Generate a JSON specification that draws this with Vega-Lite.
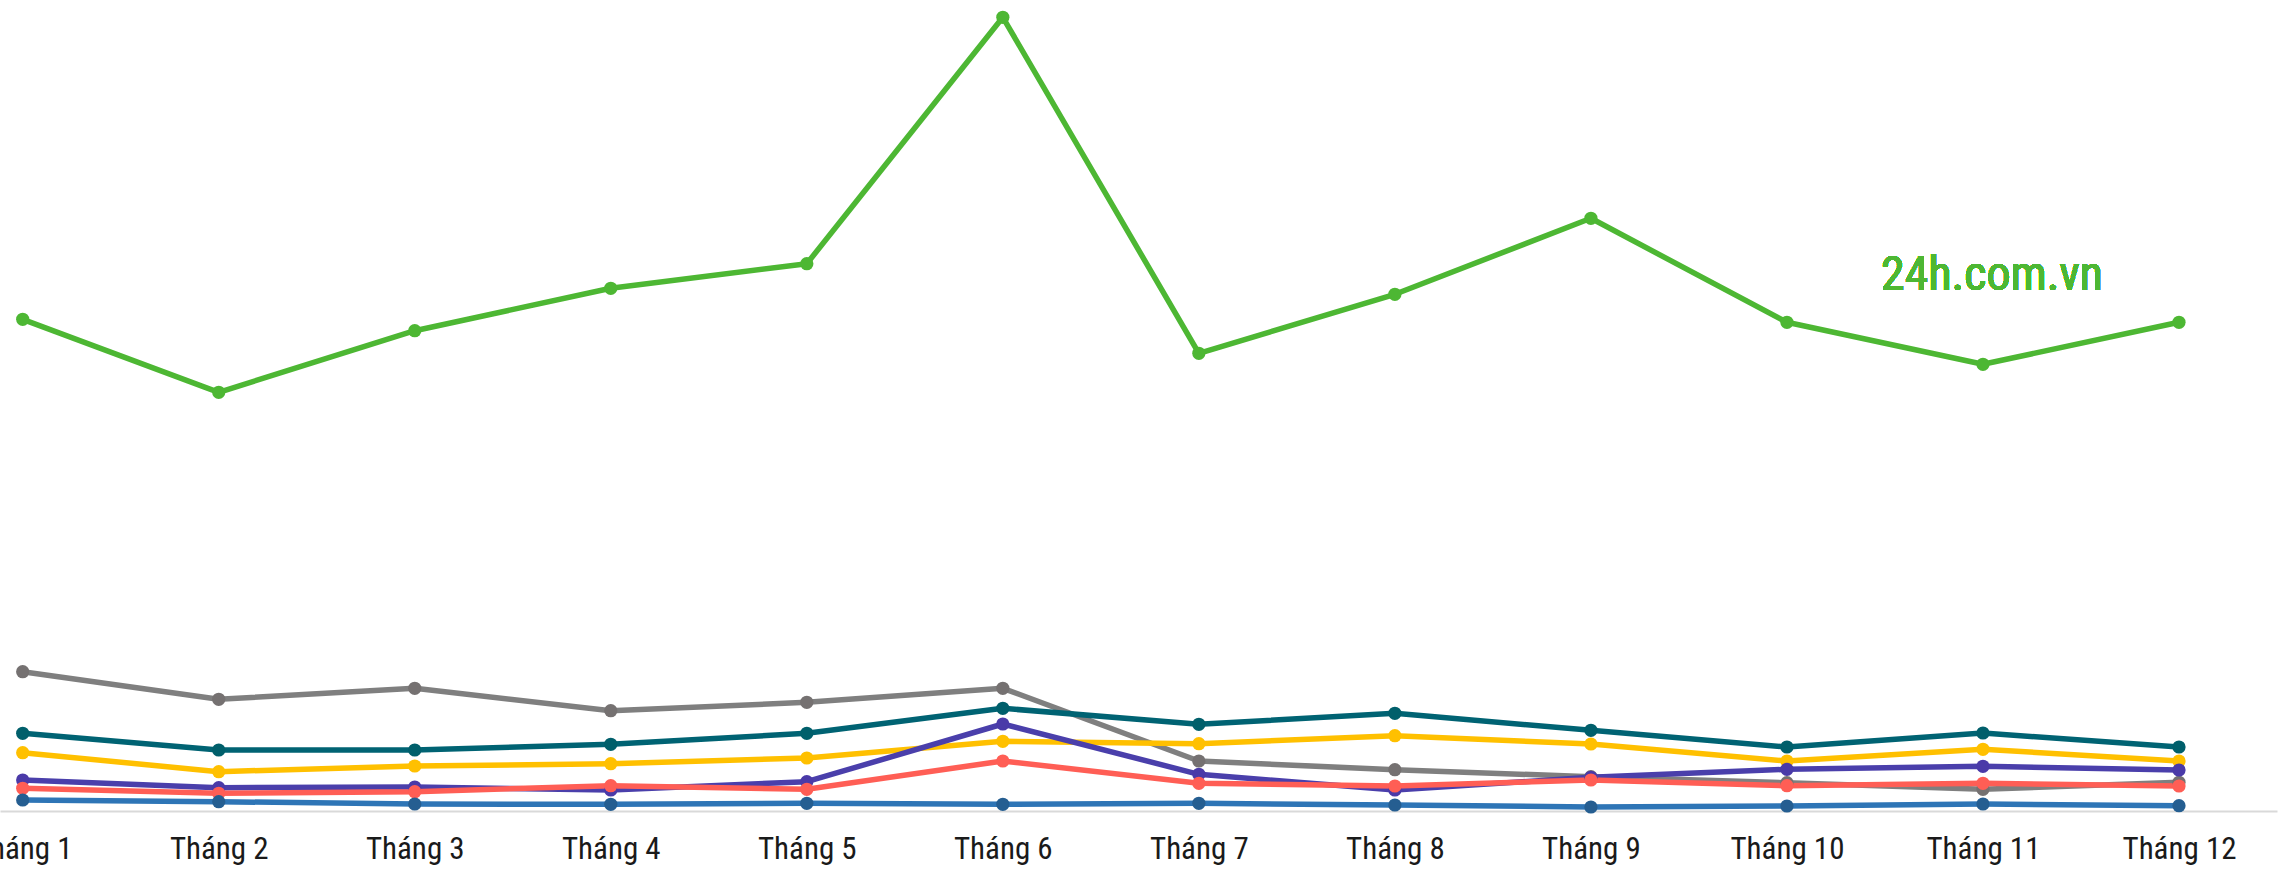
{
  "$schema": "https://vega.github.io/schema/vega-lite/v6.json",
  "width": 2277,
  "height": 811,
  "autosize": {"type": "none"},
  "padding": {"left": 0, "top": 0, "right": 8, "bottom": 61},
  "background": "white",
  "config": {"view": {"stroke": null}},
  "data": {"values": [
    {"s": "s1", "m": 1, "v": 139.3}, {"s": "s1", "m": 2, "v": 111.7}, {"s": "s1", "m": 3, "v": 122.7}, {"s": "s1", "m": 4, "v": 100.3}, {"s": "s1", "m": 5, "v": 108.7}, {"s": "s1", "m": 6, "v": 122.7}, {"s": "s1", "m": 7, "v": 50}, {"s": "s1", "m": 8, "v": 41.3}, {"s": "s1", "m": 9, "v": 34.3}, {"s": "s1", "m": 10, "v": 28.3}, {"s": "s1", "m": 11, "v": 21.7}, {"s": "s1", "m": 12, "v": 28.7},
    {"s": "s2", "m": 1, "v": 77.7}, {"s": "s2", "m": 2, "v": 61}, {"s": "s2", "m": 3, "v": 61}, {"s": "s2", "m": 4, "v": 66.7}, {"s": "s2", "m": 5, "v": 77.7}, {"s": "s2", "m": 6, "v": 102.7}, {"s": "s2", "m": 7, "v": 86.7}, {"s": "s2", "m": 8, "v": 97.7}, {"s": "s2", "m": 9, "v": 80.7}, {"s": "s2", "m": 10, "v": 64}, {"s": "s2", "m": 11, "v": 78}, {"s": "s2", "m": 12, "v": 64},
    {"s": "s3", "m": 1, "v": 58.3}, {"s": "s3", "m": 2, "v": 39.3}, {"s": "s3", "m": 3, "v": 45}, {"s": "s3", "m": 4, "v": 47.3}, {"s": "s3", "m": 5, "v": 53}, {"s": "s3", "m": 6, "v": 69.7}, {"s": "s3", "m": 7, "v": 67.3}, {"s": "s3", "m": 8, "v": 75.3}, {"s": "s3", "m": 9, "v": 67}, {"s": "s3", "m": 10, "v": 50}, {"s": "s3", "m": 11, "v": 61.7}, {"s": "s3", "m": 12, "v": 50},
    {"s": "s4", "m": 1, "v": 31}, {"s": "s4", "m": 2, "v": 23.3}, {"s": "s4", "m": 3, "v": 24}, {"s": "s4", "m": 4, "v": 21}, {"s": "s4", "m": 5, "v": 29.3}, {"s": "s4", "m": 6, "v": 87}, {"s": "s4", "m": 7, "v": 36.7}, {"s": "s4", "m": 8, "v": 21}, {"s": "s4", "m": 9, "v": 33.7}, {"s": "s4", "m": 10, "v": 41.7}, {"s": "s4", "m": 11, "v": 44.7}, {"s": "s4", "m": 12, "v": 41},
    {"s": "s5", "m": 1, "v": 22.7}, {"s": "s5", "m": 2, "v": 17.7}, {"s": "s5", "m": 3, "v": 19.3}, {"s": "s5", "m": 4, "v": 25.3}, {"s": "s5", "m": 5, "v": 21.7}, {"s": "s5", "m": 6, "v": 50}, {"s": "s5", "m": 7, "v": 27.7}, {"s": "s5", "m": 8, "v": 25}, {"s": "s5", "m": 9, "v": 31}, {"s": "s5", "m": 10, "v": 25.3}, {"s": "s5", "m": 11, "v": 27.7}, {"s": "s5", "m": 12, "v": 25},
    {"s": "s6", "m": 1, "v": 11}, {"s": "s6", "m": 2, "v": 9.3}, {"s": "s6", "m": 3, "v": 7}, {"s": "s6", "m": 4, "v": 6.7}, {"s": "s6", "m": 5, "v": 7.7}, {"s": "s6", "m": 6, "v": 6.7}, {"s": "s6", "m": 7, "v": 7.7}, {"s": "s6", "m": 8, "v": 6}, {"s": "s6", "m": 9, "v": 4}, {"s": "s6", "m": 10, "v": 5}, {"s": "s6", "m": 11, "v": 7}, {"s": "s6", "m": 12, "v": 5.3},
    {"s": "s7", "m": 1, "v": 491.7}, {"s": "s7", "m": 2, "v": 418.7}, {"s": "s7", "m": 3, "v": 480.3}, {"s": "s7", "m": 4, "v": 522.7}, {"s": "s7", "m": 5, "v": 547.3}, {"s": "s7", "m": 6, "v": 793.7}, {"s": "s7", "m": 7, "v": 457.7}, {"s": "s7", "m": 8, "v": 516.7}, {"s": "s7", "m": 9, "v": 592.7}, {"s": "s7", "m": 10, "v": 488.7}, {"s": "s7", "m": 11, "v": 446.7}, {"s": "s7", "m": 12, "v": 488.7}
  ]},
  "encoding": {
    "x": {"field": "m", "type": "quantitative",
      "scale": {"domain": [0.8842, 12.5], "nice": false, "zero": false},
      "axis": {"values": [1,2,3,4,5,6,7,8,9,10,11,12], "labelExpr": "'Tháng ' + datum.value", "title": null, "grid": false, "ticks": false, "tickSize": 0,
        "domainColor": "#d9d9d9", "domainWidth": 2, "labelFont": "Roboto Condensed, Liberation Sans Narrow, DejaVu Sans Condensed, Roboto", "labelFontSize": 31, "labelColor": "#1a1a1a", "labelPadding": 23, "labelBaseline": "top", "labelFlush": false, "labelOverlap": false}},
    "y": {"field": "v", "type": "quantitative", "scale": {"domain": [0, 811], "nice": false}, "axis": null}
  },
  "layer": [
    {"mark": {"type": "line", "strokeWidth": 5.5, "strokeJoin": "round"},
     "encoding": {"color": {"field": "s", "type": "nominal", "legend": null,
       "scale": {"domain": ["s1","s2","s3","s4","s5","s6","s7"], "range": ["#7f7f7f","#006373","#ffc000","#4a3fab","#ff5e55","#2e75b6","#4db733"]}}}},
    {"mark": {"type": "point", "filled": true, "size": 175, "opacity": 1},
     "encoding": {"color": {"field": "s", "type": "nominal", "legend": null,
       "scale": {"domain": ["s1","s2","s3","s4","s5","s6","s7"], "range": ["#757171","#005f6b","#ffc000","#4a3aa8","#ff5e55","#255e91","#4db733"]}}}},
    {"mark": {"type": "text", "text": "24h.com.vn", "align": "left", "baseline": "alphabetic", "font": "Roboto Condensed, Liberation Sans Narrow, DejaVu Sans Condensed, Roboto", "fontSize": 48, "color": "#4db733"},
     "encoding": {"x": {"datum": 10.48}, "y": {"datum": 521}}}
  ],
  "resolve": {"scale": {"color": "independent"}}
}
